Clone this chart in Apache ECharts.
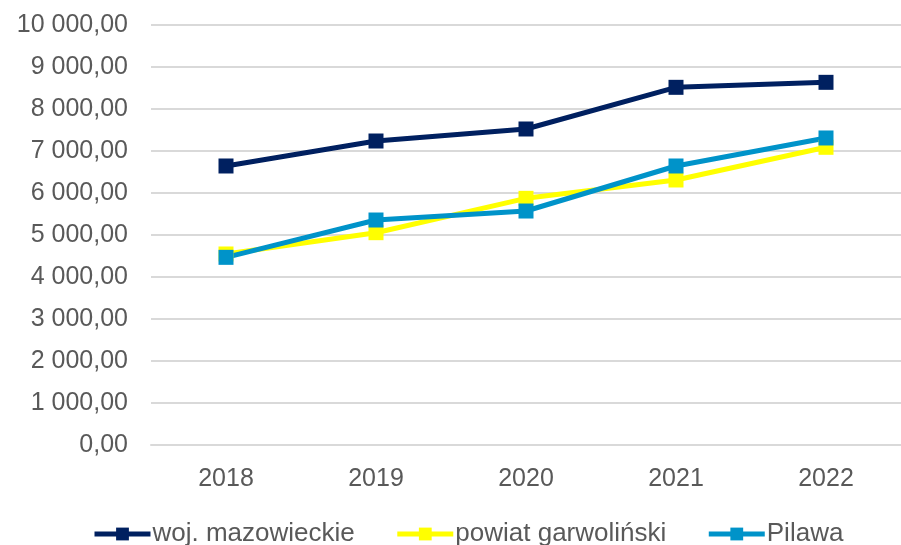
<!DOCTYPE html>
<html>
<head>
<meta charset="utf-8">
<script src="https://cdn.jsdelivr.net/npm/echarts@6/dist/echarts.min.js"></script>
<style>
  html, body { margin: 0; padding: 0; background: #fff; }
  #chart { width: 901px; height: 545px; }
</style>
</head>
<body>
<div id="chart"></div>
<script>
// dane
var years = ['2018', '2019', '2020', '2021', '2022'];
var mazowieckie = [6643, 7238, 7524, 8516, 8635];
var garwolinski = [4548, 5055, 5873, 6310, 7088];
var pilawa = [4468, 5357, 5571, 6643, 7310];

var fmt = function (v) {
  var s = v.toFixed(2).split('.');
  return s[0].replace(/\B(?=(\d{3})+(?!\d))/g, ' ') + ',' + s[1];
};

var mkSeries = function (name, data, color) {
  return {
    name: name,
    type: 'line',
    data: data,
    symbol: 'rect',
    symbolSize: 15,
    lineStyle: { width: 5, color: color },
    itemStyle: { color: color },
    emphasis: { disabled: true }
  };
};

var option = {
  animation: false,
  textStyle: { fontFamily: 'Liberation Sans, Arial, sans-serif' },
  grid: { left: 151, right: -11, top: 25, bottom: 100 },
  legend: {
    top: 516,
    left: 87,
    itemWidth: 56,
    itemHeight: 16,
    itemGap: 40,
    lineStyle: { width: 5 },
    textStyle: { fontSize: 26, color: '#595959', padding: [10, 0, 0, -3] },
    data: ['woj. mazowieckie', 'powiat garwoliński', 'Pilawa']
  },
  xAxis: {
    type: 'category',
    data: years,
    axisLine: { lineStyle: { color: '#d9d9d9', width: 2 } },
    axisTick: { show: false },
    axisLabel: { fontSize: 25, color: '#595959', margin: 22 }
  },
  yAxis: {
    type: 'value',
    min: 0,
    max: 10000,
    interval: 1000,
    axisLabel: { fontSize: 25, color: '#595959', margin: 23, formatter: fmt },
    splitLine: { lineStyle: { color: '#d9d9d9', width: 2 } }
  },
  series: [
    mkSeries('woj. mazowieckie', mazowieckie, '#002060'),
    mkSeries('powiat garwoliński', garwolinski, '#ffff00'),
    mkSeries('Pilawa', pilawa, '#0093c9')
  ]
};

var myChart = echarts.init(document.getElementById('chart'));
myChart.setOption(option);
</script>
</body>
</html>
